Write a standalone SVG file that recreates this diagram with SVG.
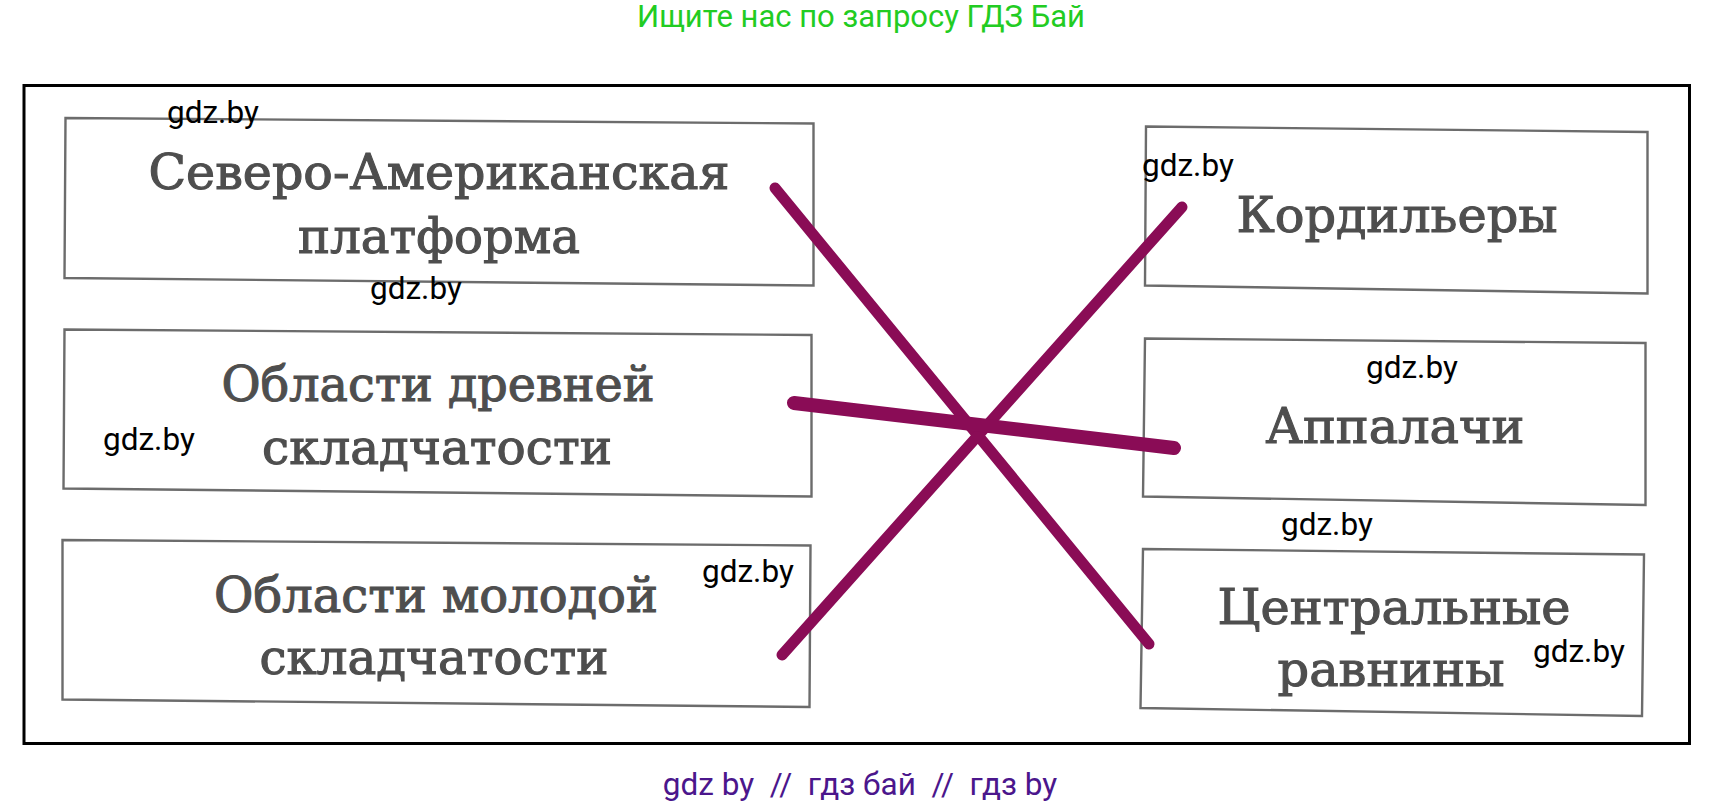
<svg xmlns="http://www.w3.org/2000/svg" width="1722" height="806" viewBox="0 0 1722 806">
<style>
.box{fill:#ffffff;stroke:#6c6c6c;stroke-width:2.4}
.lbl{font-family:"DejaVu Serif","Liberation Serif",serif;font-size:48px;fill:#4e4e4e;stroke:#4e4e4e;stroke-width:1.1;text-anchor:middle}
.wm{font-family:Roboto,"Liberation Sans",sans-serif;font-size:31.5px;fill:#000000}
.con{fill:none;stroke:#8a0c56;stroke-linecap:round}
</style>
<rect x="0" y="0" width="1722" height="806" fill="#ffffff"/>
<text x="861" y="27" font-family="Roboto,'Liberation Sans',sans-serif" font-size="31" fill="#22cc22" text-anchor="middle">Ищите нас по запросу ГДЗ Бай</text>
<rect id="frame" x="24" y="85.5" width="1665.5" height="658" fill="none" stroke="#000000" stroke-width="3"/>
<g id="n1">
<polygon class="box" points="65.5,118 813.5,123.5 813.5,285.5 64.5,278"/>
<text class="lbl" x="439" y="189" textLength="581" lengthAdjust="spacingAndGlyphs">Северо-Американская</text>
<text class="lbl" x="439" y="253" textLength="282" lengthAdjust="spacingAndGlyphs">платформа</text>
</g>
<g id="n2">
<polygon class="box" points="64.5,329.5 811.5,335 811.5,496.5 63.5,488.5"/>
<text class="lbl" x="438" y="401" textLength="433" lengthAdjust="spacingAndGlyphs">Области древней</text>
<text class="lbl" x="437" y="463.5" textLength="350" lengthAdjust="spacingAndGlyphs">складчатости</text>
</g>
<g id="n3">
<polygon class="box" points="62.5,540 810.5,545.5 809.5,707 62.5,699.5"/>
<text class="lbl" x="436" y="611.5" textLength="444" lengthAdjust="spacingAndGlyphs">Области молодой</text>
<text class="lbl" x="434" y="674" textLength="349" lengthAdjust="spacingAndGlyphs">складчатости</text>
</g>
<g id="n4">
<polygon class="box" points="1146,126.5 1647.5,132 1647.5,293.5 1145,285.5"/>
<text class="lbl" x="1397" y="232" textLength="321" lengthAdjust="spacingAndGlyphs">Кордильеры</text>
</g>
<g id="n5">
<polygon class="box" points="1145,338.5 1645.5,343 1645.5,505 1143,496.5"/>
<text class="lbl" x="1395" y="443" textLength="259" lengthAdjust="spacingAndGlyphs">Аппалачи</text>
</g>
<g id="n6">
<polygon class="box" points="1143,549 1644,554.5 1642,716 1140.5,708"/>
<text class="lbl" x="1394" y="624" textLength="353" lengthAdjust="spacingAndGlyphs">Центральные</text>
<text class="lbl" x="1391" y="686" textLength="227" lengthAdjust="spacingAndGlyphs">равнины</text>
</g>
<g id="connectors">
<line class="con" x1="775" y1="188" x2="1149" y2="644" stroke-width="11"/>
<line class="con" x1="1182" y1="207" x2="782" y2="655" stroke-width="11"/>
<line class="con" x1="794" y1="403" x2="1174" y2="448" stroke-width="14"/>
</g>
<g id="watermarks">
<text class="wm" x="167" y="123">gdz.by</text>
<text class="wm" x="370" y="299">gdz.by</text>
<text class="wm" x="1142" y="176">gdz.by</text>
<text class="wm" x="1366" y="378">gdz.by</text>
<text class="wm" x="103" y="450">gdz.by</text>
<text class="wm" x="702" y="582">gdz.by</text>
<text class="wm" x="1281" y="535">gdz.by</text>
<text class="wm" x="1533" y="662">gdz.by</text>
</g>
<text x="860" y="795" font-family="Roboto,'Liberation Sans',sans-serif" font-size="31.5" fill="#4b168c" text-anchor="middle" xml:space="preserve">gdz by  //  гдз бай  //  гдз by</text>
</svg>
